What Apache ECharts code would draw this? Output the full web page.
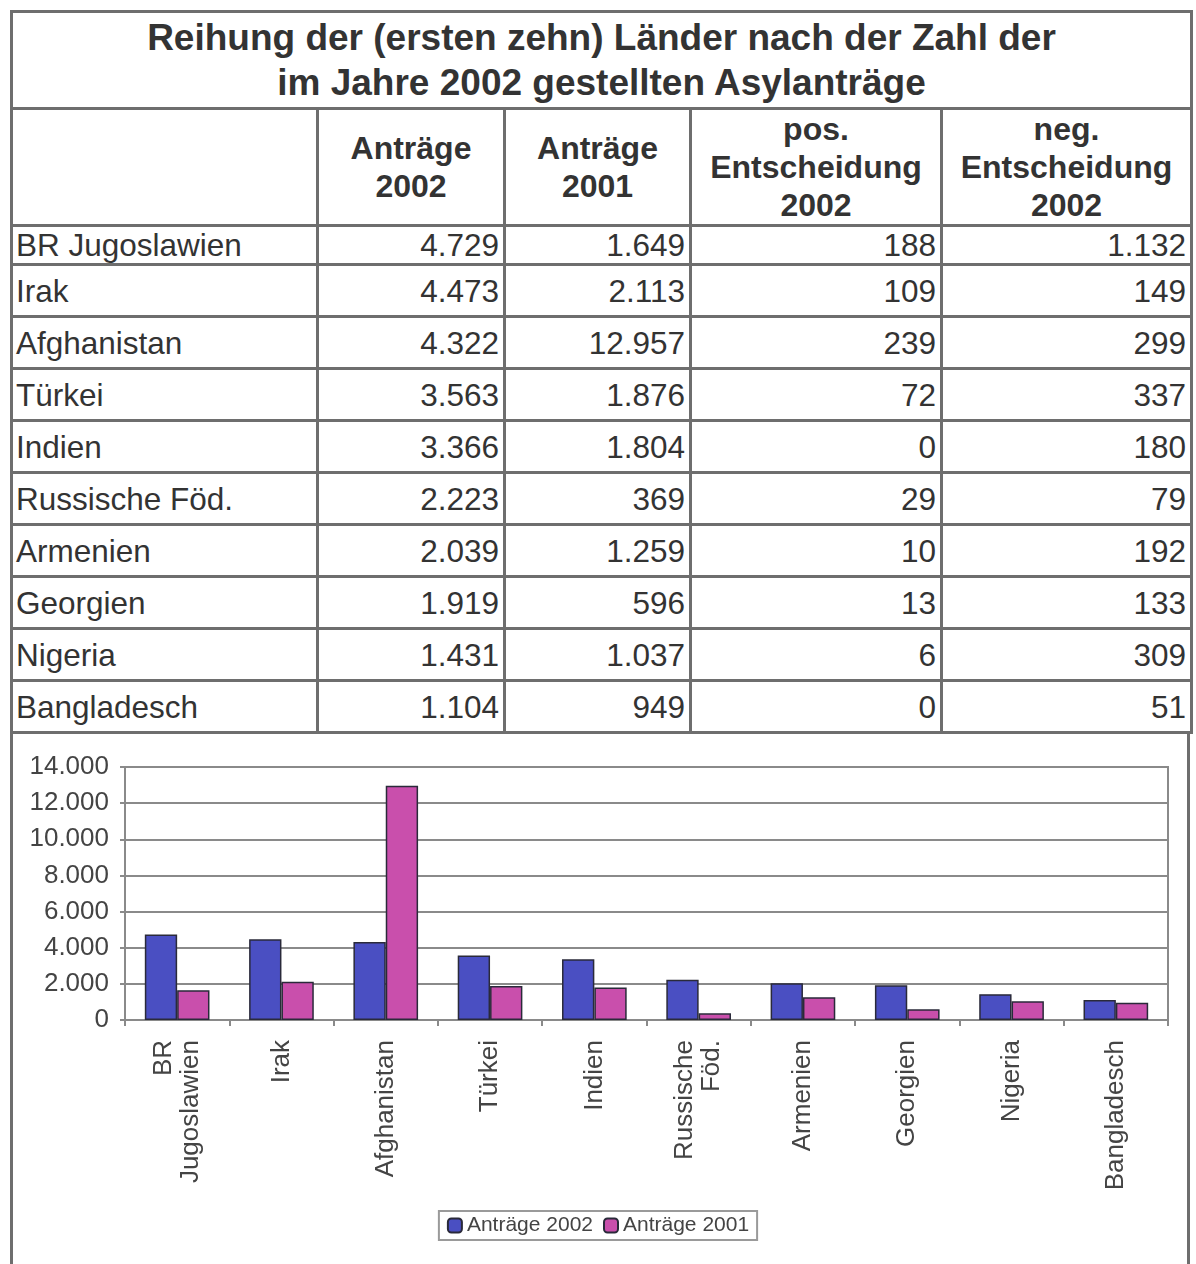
<!DOCTYPE html>
<html>
<head>
<meta charset="utf-8">
<script src="https://cdn.jsdelivr.net/npm/echarts@6/dist/echarts.min.js"></script>
<style>
  html, body { margin: 0; padding: 0; background: #fff; }
  body { width: 1196px; height: 1264px; position: relative; overflow: hidden;
         font-family: "Liberation Sans", Arial, sans-serif; color: #333; }
  #tbl { position: absolute; left: 10px; top: 10px; width: 1180px;
         border-collapse: collapse; table-layout: fixed; }
  #tbl td { border: 3px solid #6e6e6e; padding: 0; overflow: hidden; white-space: nowrap; }
  #tbl .title { height: 94px; text-align: center; font-weight: bold; font-size: 37px; line-height: 45px; color: #333; }
  #tbl .hdr td { height: 114px; text-align: center; font-weight: bold; font-size: 32px; line-height: 38px; vertical-align: middle; }
  #tbl .row td { font-size: 31.5px; height: 49px; line-height: 36px; text-align: right; padding-right: 4px; }
  #tbl .row.first td { height: 34px; }
  #tbl .row td.name { text-align: left; padding-left: 3px; padding-right: 0; }
  .vline { position: absolute; top: 733px; width: 3px; height: 531px; background: #6e6e6e; }
  #chart { position: absolute; left: 0; top: 733px; width: 1196px; height: 531px; }
</style>
</head>
<body>
<table id="tbl">
  <colgroup>
    <col style="width:306px"><col style="width:187px"><col style="width:186px"><col style="width:251px"><col style="width:250px">
  </colgroup>
  <tbody id="tbody"></tbody>
</table>
<div class="vline" style="left:10px"></div>
<div class="vline" style="left:1187px"></div>
<div id="chart"></div>
<script>
// ---- data ----
const titleLines = ["Reihung der (ersten zehn) Länder nach der Zahl der", "im Jahre 2002 gestellten Asylanträge"];
const headers = ["", "Anträge\n2002", "Anträge\n2001", "pos.\nEntscheidung\n2002", "neg.\nEntscheidung\n2002"];
const countries = ["BR Jugoslawien", "Irak", "Afghanistan", "Türkei", "Indien", "Russische Föd.", "Armenien", "Georgien", "Nigeria", "Bangladesch"];
const axisLabels = ["BR\nJugoslawien", "Irak", "Afghanistan", "Türkei", "Indien", "Russische\nFöd.", "Armenien", "Georgien", "Nigeria", "Bangladesch"];
const antraege2002 = [4729, 4473, 4322, 3563, 3366, 2223, 2039, 1919, 1431, 1104];
const antraege2001 = [1649, 2113, 12957, 1876, 1804, 369, 1259, 596, 1037, 949];
const posEnt2002 = [188, 109, 239, 72, 0, 29, 10, 13, 6, 0];
const negEnt2002 = [1132, 149, 299, 337, 180, 79, 192, 133, 309, 51];
const seriesNames = ["Anträge 2002", "Anträge 2001"];

function fmt(n) { return String(n).replace(/\B(?=(\d{3})+(?!\d))/g, "."); }

// ---- table ----
const tb = document.getElementById("tbody");
let html = '<tr><td class="title" colspan="5">' + titleLines.join("<br>") + '</td></tr>';
html += '<tr class="hdr">' + headers.map(h => '<td>' + h.split("\n").join("<br>") + '</td>').join("") + '</tr>';
countries.forEach((c, i) => {
  html += '<tr class="row' + (i === 0 ? ' first' : '') + '"><td class="name">' + c + '</td><td>' + fmt(antraege2002[i]) +
    '</td><td>' + fmt(antraege2001[i]) + '</td><td>' + fmt(posEnt2002[i]) + '</td><td>' + fmt(negEnt2002[i]) + '</td></tr>';
});
tb.innerHTML = html;

// ---- chart ----
const chart = echarts.init(document.getElementById("chart"), null, { renderer: "canvas" });
chart.setOption({
  animation: false,
  textStyle: { fontFamily: "Liberation Sans, Arial, sans-serif" },
  grid: { left: 125, right: 28, top: 34, bottom: 244, show: true, borderColor: "#8a8a8a", borderWidth: 2 },
  legend: {
    top: 478, left: "center",
    itemWidth: 14, itemHeight: 14, itemGap: 10,
    borderColor: "#9a9a9a", borderWidth: 2, padding: [4, 8],
    textStyle: { fontSize: 21, color: "#444" },
    data: seriesNames
  },
  xAxis: {
    type: "category",
    data: axisLabels,
    axisLine: { lineStyle: { color: "#8a8a8a", width: 2 } },
    axisTick: { show: true, length: 6, lineStyle: { color: "#8a8a8a", width: 2 } },
    axisLabel: { rotate: 90, fontSize: 26, lineHeight: 27, margin: 20, color: "#444" }
  },
  yAxis: {
    type: "value", min: 0, max: 14000, interval: 2000,
    axisLine: { show: true, lineStyle: { color: "#8a8a8a", width: 2 } },
    axisTick: { show: true, length: 5, lineStyle: { color: "#8a8a8a", width: 2 } },
    splitLine: { lineStyle: { color: "#8a8a8a", width: 2 } },
    axisLabel: { fontSize: 26, color: "#444", margin: 16, formatter: v => fmt(v) }
  },
  series: [
    { name: seriesNames[0], type: "bar", data: antraege2002, barGap: "0%", barCategoryGap: "38%",
      itemStyle: { color: "#4a4fc2", borderColor: "#2a2a3a", borderWidth: 1.5 } },
    { name: seriesNames[1], type: "bar", data: antraege2001,
      itemStyle: { color: "#c94fac", borderColor: "#2a2a3a", borderWidth: 1.5 } }
  ]
});
</script>
</body>
</html>
